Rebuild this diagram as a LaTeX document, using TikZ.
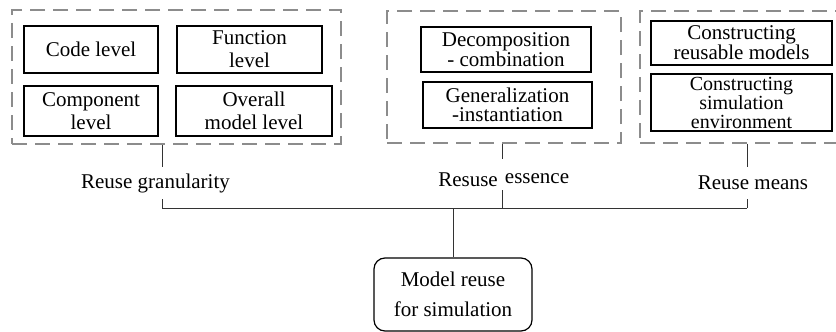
\documentclass[tikz,border=0pt]{standalone}
\usepackage{fontspec}
\setmainfont{Liberation Serif}
\newfontfamily\tms{Liberation Serif}
\begin{document}
\begin{tikzpicture}[x=1pt,y=-1pt,
  grp/.style={draw=black!45, line width=1.3pt, dash pattern=on 15pt off 8pt, inner sep=0pt},
  itembox/.style={draw=black, line width=1.2pt, inner sep=0pt, align=center},
  lbl/.style={inner sep=0pt, font=\tms\fontsize{21}{22}\selectfont},
  conn/.style={draw=black!80, line width=1pt},
  f19/.style={font=\tms\fontsize{21}{19}\selectfont},
  f23/.style={font=\tms\fontsize{21}{23}\selectfont},
  fsim/.style={font=\tms\fontsize{20}{19}\selectfont}]
\useasboundingbox (0,0) rectangle (836,332);

% group boxes
\node[grp, minimum width=329pt, minimum height=134pt] (gL) at (176.5,77) {};
\node[grp, minimum width=234pt, minimum height=132pt] (gM) at (504,77) {};
\node[grp, minimum width=200pt, minimum height=132pt] (gR) at (740,77) {};

% items
\node[itembox, f23, minimum width=134pt, minimum height=47pt] (code) at (91,49.5) {Code level};
\node[itembox, f23, minimum width=145pt, minimum height=47pt] (func) at (249.5,49.5) {Function\\level};
\node[itembox, f23, minimum width=134pt, minimum height=50pt] (comp) at (91,111) {Component\\level};
\node[itembox, f23, minimum width=156pt, minimum height=50pt] (over) at (254,111) {Overall\\model level};

\node[itembox, f19, minimum width=170pt, minimum height=45pt] (dec) at (506,49.5) {Decomposition\\- combination};
\node[itembox, f19, minimum width=169pt, minimum height=46pt] (gen) at (507.5,105) {Generalization\\-instantiation};

\node[itembox, f19, minimum width=181pt, minimum height=44pt] (reu) at (741.5,43) {Constructing\\reusable models};
\node[itembox, fsim, minimum width=181pt, minimum height=57pt] (sim) at (741.5,102.5) {Constructing\\simulation\\environment};

% root
\node[draw=black, line width=1.2pt, rounded corners=11pt, align=center,
      font=\tms\fontsize{21}{30}\selectfont, minimum width=158pt, minimum height=73pt, inner sep=0pt]
      (root) at (453,294.5) {Model reuse\\for simulation};

% labels
\node[lbl, minimum height=32pt] (lL) at (155.5,183) {Reuse granularity};
\node[lbl, anchor=base] (lM1) at (468,186) {Resuse};
\node[lbl, anchor=base] (lM2) at (537,183) {essence};
\node[lbl, minimum height=32pt] (lR) at (753,183) {Reuse means};

% junction coordinates
\coordinate (jL) at (162,208);
\coordinate (jM) at (502,208);
\coordinate (jR) at (747,208);
\coordinate (jC) at (453,208);
\coordinate (mTop) at (502,159);
\coordinate (mBot) at (502,190);

% connectors
\draw[conn] (gL.south -| jL) -- (lL.north -| jL);
\draw[conn] (lL.south -| jL) -- (jL);
\draw[conn] (gM.south -| jM) -- (mTop);
\draw[conn] (mBot) -- (jM);
\draw[conn] (gR.south -| jR) -- (lR.north -| jR);
\draw[conn] (lR.south -| jR) -- (jR);
\draw[conn] (jL) -- (jR);
\draw[conn] (jC) -- (root.north);
\end{tikzpicture}
\end{document}
